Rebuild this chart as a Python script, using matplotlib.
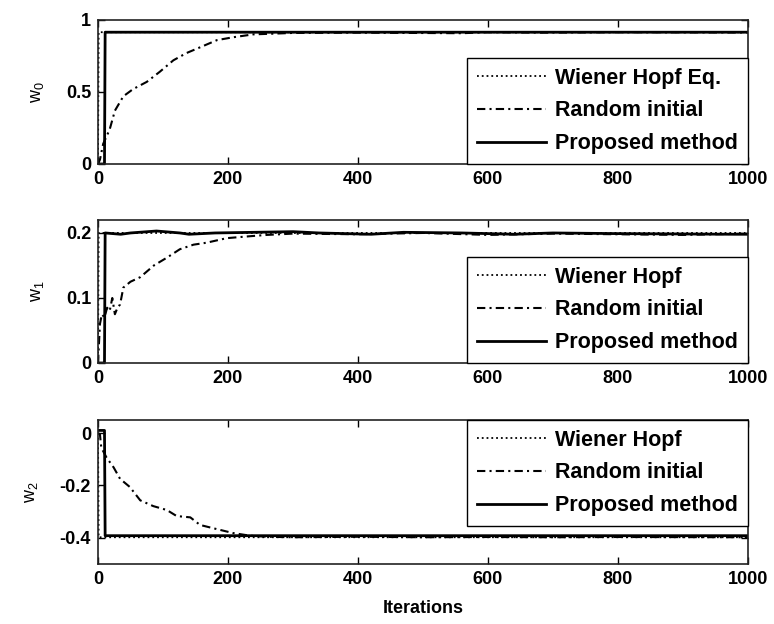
import numpy as np
import matplotlib
matplotlib.use("Agg")
import matplotlib.pyplot as plt

plt.rcParams["font.family"] = ["Liberation Sans", "DejaVu Sans"]
plt.rcParams["mathtext.default"] = "regular"
plt.rcParams["axes.unicode_minus"] = False

# ---- data ----
wiener_iters = [0, 1, 1000]
w0_wiener = [0.0, 0.915, 0.915]
w1_wiener = [0.0, 0.200, 0.200]
w2_wiener = [0.0, -0.398, -0.398]

w0_rand_iters = [0, 3, 8, 18, 26, 39, 54, 75, 95, 116, 136, 157, 183, 208, 239, 270, 300, 400, 560, 600, 680, 800, 1000]
w0_rand = [0.0, 0.03, 0.14, 0.24, 0.37, 0.47, 0.52, 0.57, 0.64, 0.72, 0.77, 0.81, 0.86, 0.88, 0.90, 0.905, 0.91, 0.912, 0.908, 0.915, 0.912, 0.915, 0.913]
w0_prop_iters = [0, 10, 11, 1000]
w0_prop = [0.0, 0.0, 0.915, 0.915]

w1_rand_iters = [0, 3, 6, 10, 14, 18, 22, 26, 30, 34, 39, 50, 65, 86, 106, 126, 147, 167, 198, 234, 260, 300, 400, 500, 600, 700, 800, 900, 1000]
w1_rand = [0.0, 0.06, 0.075, 0.07, 0.085, 0.08, 0.10, 0.075, 0.085, 0.09, 0.116, 0.125, 0.132, 0.150, 0.162, 0.175, 0.182, 0.185, 0.192, 0.195, 0.197, 0.199, 0.198, 0.200, 0.197, 0.199, 0.198, 0.197, 0.199]
w1_prop_iters = [0, 10, 11, 35, 50, 90, 126, 140, 180, 300, 340, 420, 470, 560, 640, 700, 800, 980, 1000]
w1_prop = [0.0, 0.0, 0.200, 0.198, 0.200, 0.203, 0.200, 0.198, 0.200, 0.202, 0.200, 0.198, 0.201, 0.200, 0.198, 0.200, 0.199, 0.198, 0.198]

w2_rand_iters = [0, 3, 5, 13, 24, 34, 49, 65, 85, 106, 121, 142, 157, 183, 208, 234, 260, 300, 400, 500, 600, 700, 800, 1000]
w2_rand = [0.0, -0.005, -0.055, -0.093, -0.131, -0.175, -0.206, -0.257, -0.279, -0.294, -0.317, -0.322, -0.351, -0.367, -0.382, -0.392, -0.396, -0.398, -0.396, -0.398, -0.397, -0.398, -0.397, -0.398]
w2_prop_iters = [0, 10, 11, 1000]
w2_prop = [0.01, 0.01, -0.392, -0.392]

panels = [
    (w0_rand_iters, w0_rand, w0_prop_iters, w0_prop, w0_wiener, "Wiener Hopf Eq.",
     "w$_0$", (0, 1), [0, 0.5, 1], ["0", "0.5", "1"], "lower right"),
    (w1_rand_iters, w1_rand, w1_prop_iters, w1_prop, w1_wiener, "Wiener Hopf",
     "w$_1$", (0, 0.22), [0, 0.1, 0.2], ["0", "0.1", "0.2"], "lower right"),
    (w2_rand_iters, w2_rand, w2_prop_iters, w2_prop, w2_wiener, "Wiener Hopf",
     "w$_2$", (-0.5, 0.05), [-0.4, -0.2, 0], ["-0.4", "-0.2", "0"], "upper right"),
]

fig = plt.figure(figsize=(7.74, 6.24), dpi=100)
rects = [
    [0.1266, 0.7372, 0.8398, 0.2308],
    [0.1266, 0.4183, 0.8398, 0.2292],
    [0.1266, 0.0962, 0.8398, 0.2308],
]

for rect, p in zip(rects, panels):
    r_it, r_val, p_it, p_val, wh, wh_label, ylab, ylim, yt, ytl, loc = p
    ax = fig.add_axes(rect)
    ax.plot(wiener_iters, wh, color="black", lw=1.3, linestyle=":", label=wh_label)
    ax.plot(r_it, r_val, color="black", lw=1.5, dashes=(4, 2, 1, 2), label="Random initial")
    ax.plot(p_it, p_val, color="black", lw=2.0, label="Proposed method")

    ax.set_xlim(0, 1000)
    ax.set_ylim(*ylim)
    ax.set_xticks(np.arange(0, 1001, 200))
    ax.set_yticks(yt)
    ax.set_yticklabels(ytl)
    ax.tick_params(direction="in", top=True, right=True, length=5, width=1,
                   labelsize=13, pad=5)
    for lbl in ax.get_xticklabels() + ax.get_yticklabels():
        lbl.set_fontweight("bold")
    for s in ax.spines.values():
        s.set_linewidth(1.2)
        s.set_color("#222222")
    ax.set_ylabel(ylab, fontsize=13, labelpad=14)

    leg = ax.legend(loc=loc, borderaxespad=0, fancybox=False, edgecolor="black",
                    framealpha=1, handlelength=3.2, handletextpad=0.45,
                    labelspacing=0.55, borderpad=0.45,
                    prop={"weight": "bold", "size": 15.5})
    leg.get_frame().set_linewidth(1.0)

ax.set_xlabel("Iterations", fontsize=13, fontweight="bold", labelpad=9)

fig.savefig("out.png", dpi=100)
